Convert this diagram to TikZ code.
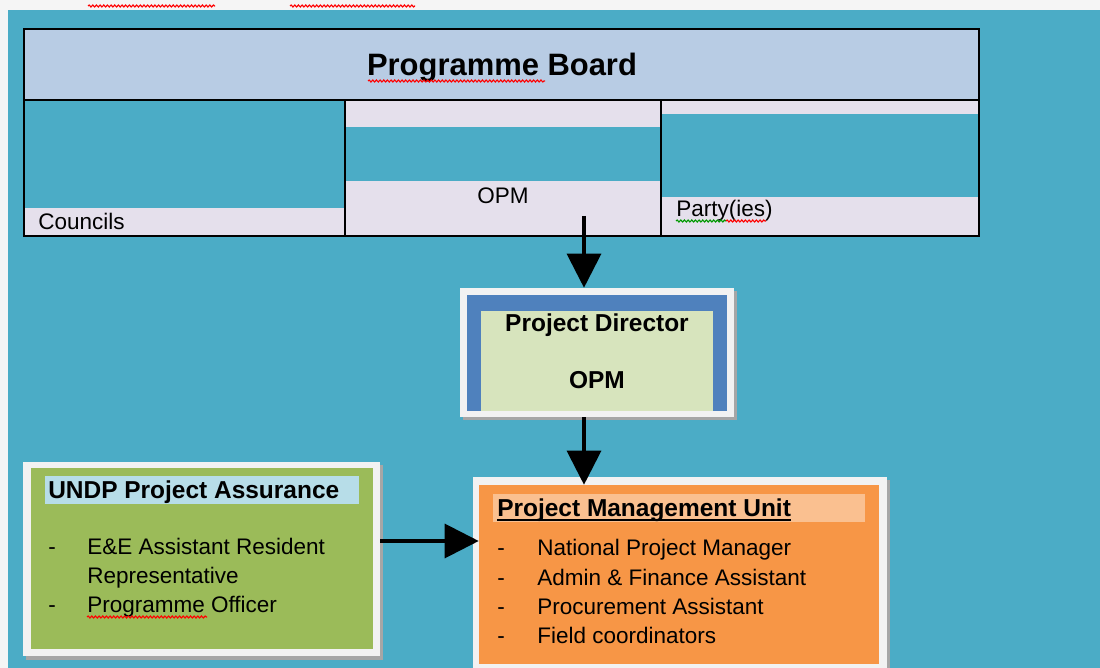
\documentclass[tikz,border=0pt]{standalone}
\usepackage{fontspec}
\setmainfont{Liberation Sans}
\usetikzlibrary{arrows.meta,fit,decorations.pathmorphing}

\definecolor{bgteal}{HTML}{4BACC6}
\definecolor{boardblue}{HTML}{B8CCE4}
\definecolor{lavend}{HTML}{E5E0EC}
\definecolor{pdblue}{HTML}{4F81BD}
\definecolor{pdgreen}{HTML}{D7E4BD}
\definecolor{olivegreen}{HTML}{9BBB59}
\definecolor{paleblue}{HTML}{B7DDE8}
\definecolor{pmuorange}{HTML}{F79646}
\definecolor{paleorange}{HTML}{FAC090}
\definecolor{offwhite}{HTML}{F2F2F2}
\newcommand{\shadowcol}{black!35}

\tikzset{
  box/.style={inner sep=0pt, draw=none},
  cell/.style={inner sep=0pt, draw=black, line width=1.2pt},
  txt/.style={inner sep=0pt, anchor=base west, font=\fontsize{16}{19}\selectfont},
  ttl/.style={inner sep=0pt, font=\bfseries\fontsize{17.4}{21}\selectfont},
  boardtxt/.style={inner sep=0pt, anchor=base, font=\bfseries\fontsize{22}{26}\selectfont},
  bigarrow/.style={line width=2.2pt, -{Triangle[length=0.85cm,width=0.85cm]}},
  squiggle/.style={red, line width=0.8pt, decorate, decoration={snake, amplitude=0.7pt, segment length=2.6pt}},
}

\begin{document}
\begin{tikzpicture}[x=0.025cm,y=-0.025cm]
\useasboundingbox (0,0) rectangle (1100,668);
\fill[white!96!black] (0,0) rectangle (1100,668);
\fill[bgteal] (8,10) rectangle (1100,668);
\draw[squiggle] (88,6) -- (215,6);
\draw[squiggle] (290,6) -- (415,6);

% board
\node[cell, fill=boardblue, fit={(24,29) (979,100)}] (board) {};
\node[boardtxt] (boardname) at (502,76) {Programme Board};
\draw[squiggle] (368,81) -- (545,81);

\fill[lavend] (24,208) rectangle (345,236);
\fill[lavend] (345,100) rectangle (661,127);
\fill[lavend] (345,181) rectangle (661,236);
\fill[lavend] (661,100) rectangle (979,114);
\fill[lavend] (661,197) rectangle (979,236);
\node[cell, fit={(24,100) (345,236)}] (councils) {};
\node[cell, fit={(345,100) (661,236)}] (opm) {};
\node[cell, fit={(661,100) (979,236)}] (parties) {};
\node[txt] (councilstxt) at (38,230) {Councils};
\node[txt, anchor=base] (opmtxt) at (503,204) {OPM};
\node[txt] (partytxt) at (676,217) {Party(ies)};
\draw[squiggle, green!60!black] (676,221) -- (726,221);
\draw[squiggle] (726,221) -- (766,221);

% project director
\fill[\shadowcol] (463,291) rectangle (737,420);
\node[box, fill=offwhite, fit={(460,288) (734,417)}] (pdouter) {};
\fill[pdblue] (467,295) rectangle (727,411);
\node[box, fill=pdgreen, fit={(481,311) (713,411)}] (pd) {};
\node[ttl, anchor=base] (pdtitle) at (597,332) {Project Director};
\node[ttl, anchor=base] (pdopm) at (597,389) {OPM};

% assurance
\fill[\shadowcol] (26,465) rectangle (383,660);
\node[box, fill=offwhite, fit={(23,462) (380,656)}] (undpouter) {};
\node[box, fill=olivegreen, fit={(31,468) (373,649)}] (undp) {};
\fill[paleblue] (45,476) rectangle (359,504);
\node[ttl, anchor=base west] (undptitle) at (48,499) {UNDP Project Assurance};
\node[txt] (undpdasha) at (48,555) {-};
\node[txt] (undpitema) at (87,555) {E\&E Assistant Resident};
\node[txt] (undpitemab) at (87,583) {Representative};
\node[txt] (undpdashb) at (48,612) {-};
\node[txt] (undpitemb) at (87,612) {Programme Officer};
\draw[squiggle] (87,617) -- (207,617);

% management unit
\fill[\shadowcol] (476,480) rectangle (890,668);
\node[box, fill=offwhite, fit={(473,477) (887,668)}] (pmuouter) {};
\node[box, fill=pmuorange, fit={(479,485) (879,664)}] (pmu) {};
\fill[paleorange] (493,494) rectangle (865,522);
\node[ttl, anchor=base west] (pmutitle) at (497,517) {Project Management Unit};
\draw[line width=1.3pt] ([yshift=-0.07cm]pmutitle.base west) -- ([yshift=-0.07cm]pmutitle.base east);
\node[txt] (pmudasha) at (497,556) {-};
\node[txt] (pmuitema) at (537,556) {National Project Manager};
\node[txt] (pmudashb) at (497,585) {-};
\node[txt] (pmuitemb) at (537,585) {Admin \& Finance Assistant};
\node[txt] (pmudashc) at (497,615) {-};
\node[txt] (pmuitemc) at (537,615) {Procurement Assistant};
\node[txt] (pmudashd) at (497,643) {-};
\node[txt] (pmuitemd) at (537,643) {Field coordinators};

% arrows
\coordinate (opmfoot) at (584,216);
\coordinate (arrowrow) at (0,541);
\draw[bigarrow] (opmfoot) -- (opmfoot |- pdouter.north);
\draw[bigarrow] (pdouter.south -| opmfoot) -- (opmfoot |- pmu.north);
\draw[bigarrow] (undpouter.east |- arrowrow) -- (pmu.west |- arrowrow);
\end{tikzpicture}
\end{document}
